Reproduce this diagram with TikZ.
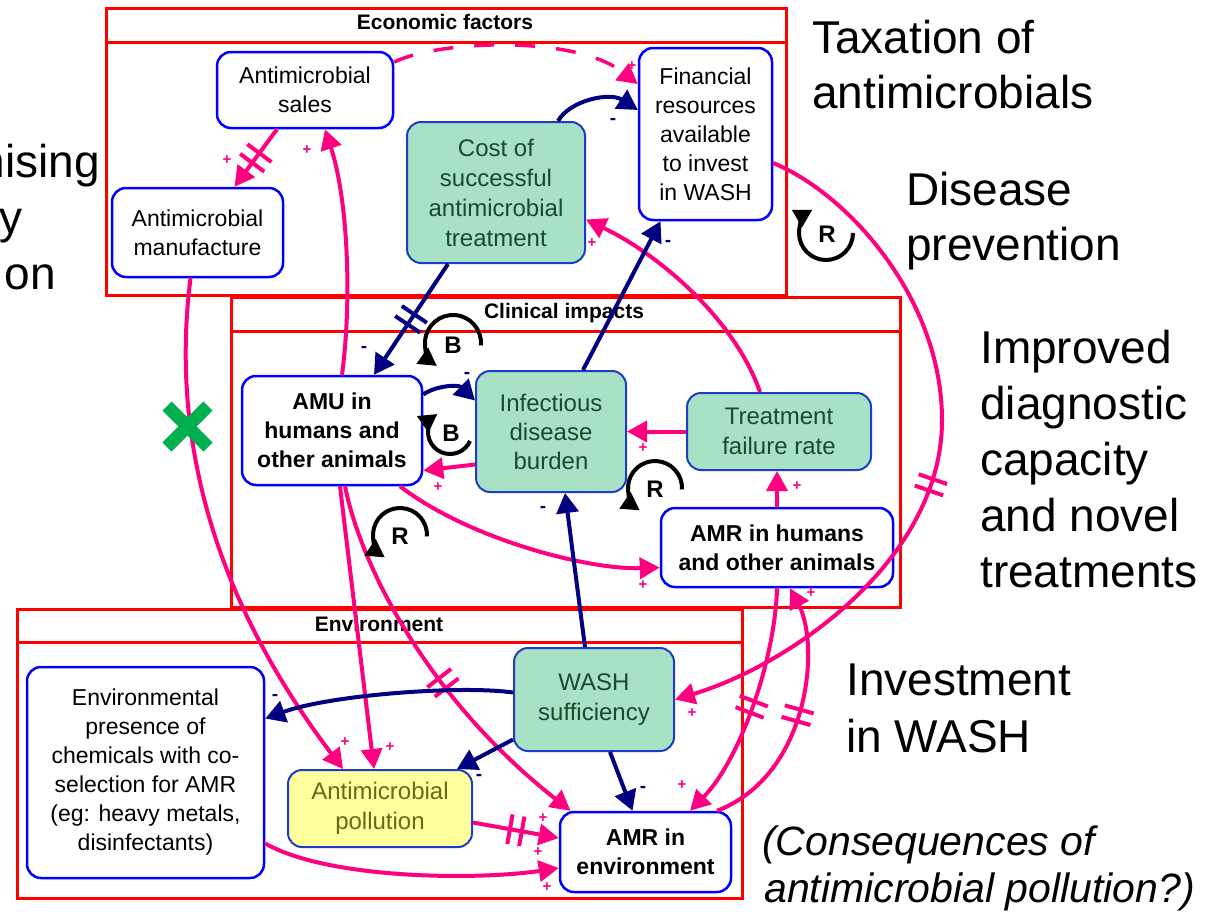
\documentclass[tikz,border=0pt]{standalone}
\usepackage{fontspec}
\setmainfont{Liberation Sans}
\usetikzlibrary{arrows.meta,decorations.markings}
\definecolor{pinkc}{RGB}{255,0,128}
\definecolor{navyc}{RGB}{0,0,128}
\definecolor{framered}{RGB}{255,0,0}
\definecolor{nodeblue}{RGB}{0,0,255}
\definecolor{gborder}{RGB}{30,60,200}
\definecolor{gfill}{RGB}{168,225,196}
\definecolor{gtext}{RGB}{25,75,45}
\definecolor{yfill}{RGB}{255,255,155}
\definecolor{ytext}{RGB}{105,105,30}
\definecolor{xgreen}{RGB}{0,176,80}
\tikzset{
  frame/.style={draw=framered, line width=3pt},
  header/.style={font=\fontsize{21}{24}\selectfont\bfseries, inner sep=0pt},
  factor/.style={draw=nodeblue, line width=2.5pt, fill=white, rounded corners=14pt, align=center, inner sep=0pt, font=\fontsize{23}{29}\selectfont},
  boldfactor/.style={factor, font=\fontsize{23}{29}\selectfont\bfseries},
  gfactor/.style={draw=gborder, line width=2pt, fill=gfill, text=gtext, rounded corners=14pt, align=center, inner sep=0pt, font=\fontsize{24}{30}\selectfont},
  yfactor/.style={gfactor, fill=yfill, text=ytext},
  side/.style={font=\fontsize{46}{55}\selectfont, inner sep=0pt},
  sideit/.style={font=\fontsize{41}{47}\selectfont\itshape, inner sep=0pt},
  pedge/.style={draw=pinkc, line width=4pt, -{Triangle[length=20pt,width=21pt]}},
  nedge/.style={draw=navyc, line width=4pt, -{Triangle[length=20pt,width=22pt]}},
  fbloop/.style={draw=black, line width=4pt, -{Triangle[length=18pt,width=19pt]}},
  looplabel/.style={font=\fontsize{24}{24}\selectfont\bfseries, inner sep=0pt},
  plus/.style={text=pinkc, font=\fontsize{15}{15}\selectfont\bfseries, inner sep=0pt},
  minus/.style={text=navyc, font=\fontsize{19}{19}\selectfont\bfseries, inner sep=0pt},
  hashmark/.style 2 args={postaction={decorate, decoration={markings, mark=at position #1 with {\draw[#2, line width=4pt, solid, -] (-6pt,-15pt) -- (-6pt,15pt) (6pt,-15pt) -- (6pt,15pt);}}}},
}
\begin{document}
\begin{tikzpicture}[x=1pt,y=-1pt]
\useasboundingbox (0,0) rectangle (1222,913);
\clip (0,0) rectangle (1222,913);
\fill[white] (0,0) rectangle (1222,913);

% frames
\draw[frame] (106,8) rectangle (786,295);
\draw[frame] (106,42) -- (786,42);
\node[header] (hecon) at (445,22) {Economic factors};
\draw[frame] (231,297) rectangle (900,607);
\draw[frame] (231,331) -- (900,331);
\node[header] (hclin) at (564,313) {Clinical impacts};
\draw[frame] (17,609) rectangle (742,898);
\draw[frame] (17,642) -- (742,642);
\node[header] (henv) at (379,624) {Environment};

% side texts
\node[side, anchor=base east] (l1) at (100,177) {nising};
\node[side, anchor=base east] (l2) at (23,233) {y};
\node[side, anchor=base east] (l3) at (56,289) {on};
\node[side, anchor=base west] (t1) at (812,53) {Taxation of};
\node[side, anchor=base west] (t2) at (812,108) {antimicrobials};
\node[side, anchor=base west] (d1) at (906,205) {Disease};
\node[side, anchor=base west] (d2) at (906,260) {prevention};
\node[side, anchor=base west] (i1) at (980,363) {Improved};
\node[side, anchor=base west] (i2) at (980,419) {diagnostic};
\node[side, anchor=base west] (i3) at (980,475) {capacity};
\node[side, anchor=base west] (i4) at (980,531) {and novel};
\node[side, anchor=base west] (i5) at (980,587) {treatments};
\node[side, anchor=base west] (w1) at (846,695) {Investment};
\node[side, anchor=base west] (w2) at (846,752) {in WASH};
\node[sideit, anchor=base west] (c1) at (762,855) {(Consequences of};
\node[sideit, anchor=base west] (c2) at (764,902) {antimicrobial pollution?)};

% nodes
\node[factor, minimum width=176pt, minimum height=76pt] (sales) at (305,90) {Antimicrobial\\sales};
\node[factor, minimum width=171pt, minimum height=89pt] (manuf) at (197.5,232.5) {Antimicrobial\\manufacture};
\node[gfactor, minimum width=178pt, minimum height=141pt] (cost) at (496,192.5) {Cost of\\successful\\antimicrobial\\treatment};
\node[factor, minimum width=133pt, minimum height=172pt] (fin) at (705.5,134) {Financial\\resources\\available\\to invest\\in WASH};
\node[boldfactor, minimum width=180pt, minimum height=109pt] (amu) at (332,430.5) {AMU in\\humans and\\other animals};
\node[gfactor, minimum width=150pt, minimum height=121pt, font=\fontsize{24}{29}\selectfont] (idb) at (551,431.5) {Infectious\\disease\\burden};
\node[gfactor, minimum width=184pt, minimum height=77pt] (tfr) at (779,431.5) {Treatment\\failure rate};
\node[boldfactor, minimum width=232pt, minimum height=79pt] (amrh) at (777,547.5) {AMR in humans\\and other animals};
\node[factor, minimum width=237pt, minimum height=211pt] (envc) at (145.5,772.5) {Environmental\\presence of\\chemicals with co-\\selection for AMR\\(eg: heavy metals,\\disinfectants)};
\node[yfactor, minimum width=184pt, minimum height=77pt] (poll) at (380,808.5) {Antimicrobial\\pollution};
\node[gfactor, minimum width=160pt, minimum height=103pt] (wash) at (594,699.5) {WASH\\sufficiency};
\node[boldfactor, minimum width=171pt, minimum height=80pt] (amre) at (645.5,852) {AMR in\\environment};

% pink edges
\draw[pedge, dash pattern=on 20pt off 21pt, line width=3.5pt] ([yshift=28pt]sales.east) .. controls (440,40) and (575,35) .. ([yshift=50pt]fin.west);
\draw[pedge, hashmark={0.5}{pinkc}] ([xshift=-28pt]sales.south) -- ([xshift=37pt]manuf.north);
\draw[pedge] ([xshift=10pt]amu.north) .. controls (352,300) and (348,200) .. ([xshift=20pt]sales.south);
\draw[pedge] ([xshift=-7pt]manuf.south) .. controls (170,440) and (215,600) .. ([xshift=-37pt]poll.north);
\draw[pedge] ([xshift=8pt]amu.south) -- ([xshift=-6pt]poll.north);
\draw[pedge, hashmark={0.55}{pinkc}] ([xshift=13pt]amu.south) .. controls (362,570) and (430,700) .. ([xshift=-75pt]amre.north);
\draw[pedge] ([xshift=68pt]amu.south) .. controls (470,540) and (590,570) .. ([yshift=-20pt]amrh.west);
\draw[pedge] ([yshift=-33pt]idb.west) -- ([yshift=-40pt]amu.east);
\draw[pedge] (tfr.west) -- (idb.east);
\draw[pedge] (amrh.north) -- (amrh.north |- tfr.south);
\draw[pedge] ([xshift=-19pt]tfr.north) .. controls (735,320) and (660,255) .. ([yshift=-27pt]cost.east);
\draw[pedge, hashmark={0.53}{pinkc}] ([yshift=-29pt]fin.east) .. controls (850,195) and (942,300) .. (942,420) .. controls (942,560) and (790,665) .. (wash.east);
\draw[pedge, hashmark={0.5}{pinkc}] (amrh.south) .. controls (775,660) and (740,760) .. ([xshift=44.5pt]amre.north);
\draw[pedge, hashmark={0.5}{pinkc}] ([xshift=71.5pt]amre.north) .. controls (810,775) and (820,645) .. ([xshift=13pt]amrh.south);
\draw[pedge, hashmark={0.5}{pinkc}] ([yshift=-14pt]poll.east) -- ([yshift=14pt]amre.west);
\draw[pedge] ([yshift=-71pt]envc.east) .. controls (330,880) and (480,880) .. ([yshift=-16pt]amre.west);

% navy edges
\draw[nedge] ([xshift=62pt]cost.north) .. controls (570,100) and (610,92) .. ([yshift=24pt]fin.west);
\draw[nedge, hashmark={0.5}{navyc}] ([xshift=-48pt]cost.south) -- ([xshift=42pt]amu.north);
\draw[nedge] ([yshift=36pt]amu.east) .. controls (435,386) and (458,384) .. ([yshift=31pt]idb.west);
\draw[nedge] ([xshift=32pt]idb.north) -- ([xshift=-45pt]fin.south);
\draw[nedge] ([xshift=-9pt]wash.north) -- ([xshift=14pt]idb.south);
\draw[nedge] ([yshift=7pt]wash.west) .. controls (460,685) and (330,695) .. ([yshift=54pt]envc.east);
\draw[nedge] ([yshift=-40pt]wash.west) -- ([xshift=77pt]poll.north);
\draw[nedge] ([xshift=16pt]wash.south) -- ([xshift=-13pt]amre.north);

% loops
\draw[fbloop] ([shift={(0:27pt)}]826,233) arc[start angle=0, end angle=-240, radius=27pt];
\node[looplabel] (lr1) at (827,234) {R};
\draw[fbloop] ([shift={(-5:28pt)}]453,343) arc[start angle=-5, end angle=235, radius=28pt];
\node[looplabel] (lb1) at (453,345) {B};
\draw[fbloop] ([shift={(-24:22pt)}]450,432) arc[start angle=-24, end angle=-235, radius=22pt];
\node[looplabel] (lb2) at (451,433) {B};
\draw[fbloop] ([shift={(-3:27pt)}]655,488) arc[start angle=-3, end angle=236, radius=27pt];
\node[looplabel] (lr2) at (655,489) {R};
\draw[fbloop] ([shift={(-3:27pt)}]400,535) arc[start angle=-3, end angle=236, radius=27pt];
\node[looplabel] (lr3) at (400,536) {R};

% green cross
\draw[xgreen, line width=13pt] (167,406) -- (208,447) (167,447) -- (208,406);

% signs
\node[plus] (s1) at (632,66) {+};
\node[plus] (s2) at (227,160) {+};
\node[plus] (s3) at (307,150) {+};
\node[plus] (s4) at (345,742) {+};
\node[plus] (s5) at (390,747) {+};
\node[plus] (s6) at (543,818) {+};
\node[plus] (s7) at (643,585) {+};
\node[plus] (s8) at (438,487) {+};
\node[plus] (s9) at (643,448) {+};
\node[plus] (s10) at (797,486) {+};
\node[plus] (s11) at (592,243) {+};
\node[plus] (s12) at (692,713) {+};
\node[plus] (s13) at (682,785) {+};
\node[plus] (s14) at (811,593) {+};
\node[plus] (s15) at (538,852) {+};
\node[plus] (s16) at (547,887) {+};
\node[minus] (m1) at (613,121) {-};
\node[minus] (m2) at (364,349) {-};
\node[minus] (m3) at (467,375) {-};
\node[minus] (m4) at (668,243) {-};
\node[minus] (m5) at (543,509) {-};
\node[minus] (m6) at (275,697) {-};
\node[minus] (m7) at (479,777) {-};
\node[minus] (m8) at (643,789) {-};
\end{tikzpicture}
\end{document}
